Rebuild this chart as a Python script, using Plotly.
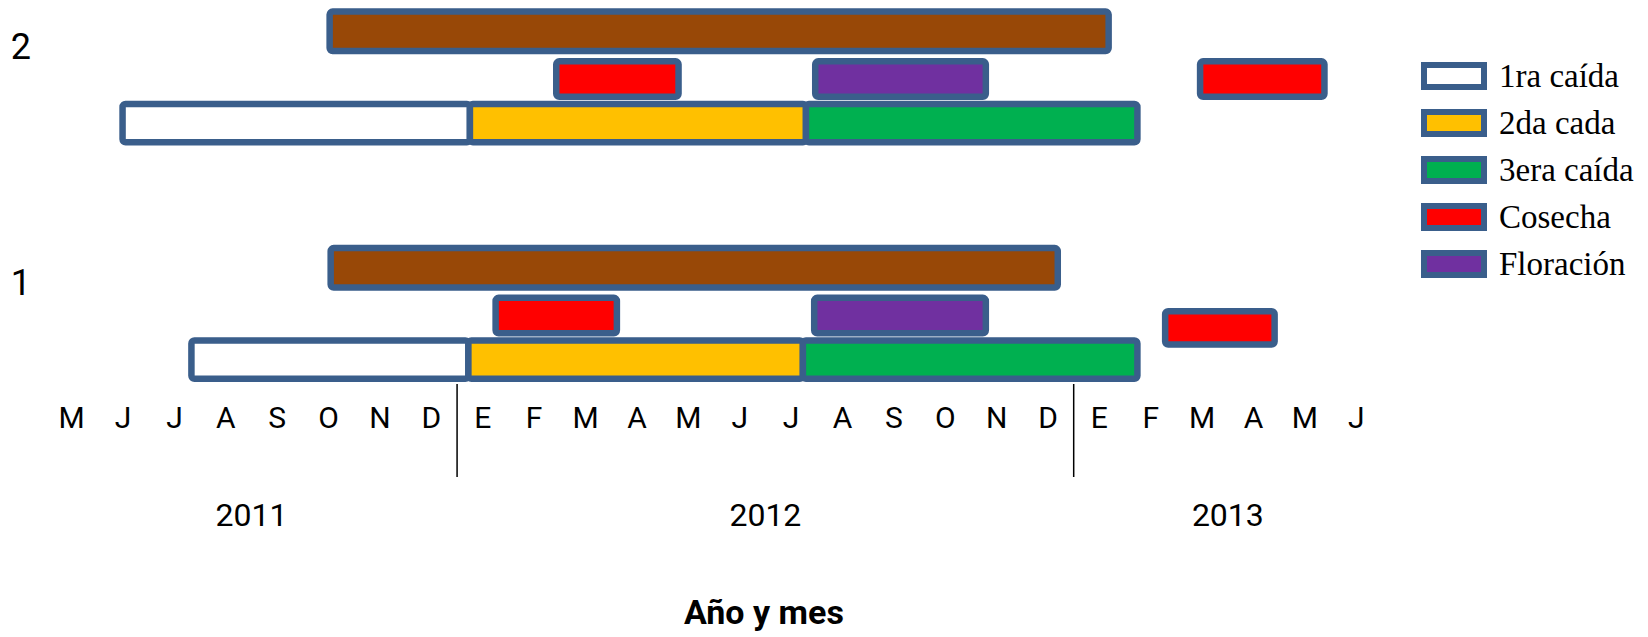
import plotly.graph_objects as go

# Meses contados desde enero 2011 (0 = 1 ene 2011, 12 = 1 ene 2012, 24 = 1 ene 2013)
ROWS = [2, 2, 2, 2, 2, 2, 2,
        1, 1, 1, 1, 1, 1, 1]
ACTIVITY = ["Ciclo", "Cosecha", "Floración", "Cosecha", "1ra caída", "2da cada", "3era caída",
            "Ciclo", "Cosecha", "Floración", "Cosecha", "1ra caída", "2da cada", "3era caída"]
START = [9.52, 13.93, 18.97, 26.46, 5.49, 12.25, 18.79,
         9.54, 12.75, 18.95, 25.78, 6.83, 12.22, 18.73]
END = [24.68, 16.31, 22.29, 28.88, 12.25, 18.79, 25.24,
       23.69, 15.11, 22.29, 27.91, 12.22, 18.73, 25.24]

MONTH_LABELS = ["M", "J", "J", "A", "S", "O", "N", "D",
                "E", "F", "M", "A", "M", "J", "J", "A", "S", "O", "N", "D",
                "E", "F", "M", "A", "M", "J"]
FIRST_MONTH = 4  # mayo 2011
YEARS = ["2011", "2012", "2013"]
LEGEND_ITEMS = ["1ra caída", "2da cada", "3era caída", "Cosecha", "Floración"]

# styling
COLORS = {
    "Ciclo": "#984807",
    "1ra caída": "#ffffff",
    "2da cada": "#ffc000",
    "3era caída": "#00b050",
    "Cosecha": "#ff0000",
    "Floración": "#7030a0",
}
BORDER = "#3a5e8b"
# lane per bar: (offset from row value, bar thickness) in y units
LANE = {"top": (0.062, 0.167), "mid": (-0.140, 0.150), "low": (-0.326, 0.162), "mid_low": (-0.192, 0.141)}
BAR_LANE = ["top", "mid", "mid", "mid", "low", "low", "low",
            "top", "mid", "mid", "mid_low", "low", "low", "low"]
DRAW_ORDER = ["1ra caída", "2da cada", "3era caída", "Cosecha", "Floración", "Ciclo"]

SANS = "Roboto, Liberation Sans, sans-serif"
SERIF = "Liberation Serif, Times New Roman, serif"

# the page puts the figure 8px in from the corner, so size it to end at 1648x637
OFF = 8
W, H = 1648 - OFF, 637 - OFF
PLOT_TOP, PLOT_BOT = 8, 477      # page pixels
PLOT_L, PLOT_R = 46, 1382
ML, MR = PLOT_L - OFF, W - (PLOT_R - OFF)
MT, MB = PLOT_TOP - OFF, H - (PLOT_BOT - OFF)
ROW_PX = 236.5                   # pixels per row unit
ROW2_PX, ROW1_PX = 46, 282.5     # where labels "2" and "1" sit


def py(px):
    # page pixel row -> paper y
    return (PLOT_BOT - px) / (PLOT_BOT - PLOT_TOP)


def pxx(px):
    return (px - PLOT_L) / (PLOT_R - PLOT_L)


fig = go.Figure()
for act in DRAW_ORDER:
    idx = [i for i, a in enumerate(ACTIVITY) if a == act]
    fig.add_trace(go.Bar(
        orientation="h",
        name=act,
        y=[ROWS[i] + LANE[BAR_LANE[i]][0] for i in idx],
        base=[START[i] for i in idx],
        x=[END[i] - START[i] for i in idx],
        width=[LANE[BAR_LANE[i]][1] for i in idx],
        marker=dict(color=COLORS[act], line=dict(color=BORDER, width=6.5), cornerradius=3),
        showlegend=False,
        hovertemplate=act + "<extra></extra>",
    ))
# empty trace so the month axis gets drawn
fig.add_trace(go.Scatter(x=[], y=[], xaxis="x2", yaxis="y", showlegend=False, hoverinfo="skip"))

x_range = [FIRST_MONTH, FIRST_MONTH + len(MONTH_LABELS)]
year_pos = []
for k in range(len(YEARS)):
    lo = max(x_range[0], 12 * k)
    hi = min(x_range[1], 12 * (k + 1))
    year_pos.append((lo + hi) / 2)

# year separators
for k in range(1, len(YEARS)):
    fig.add_shape(type="line", xref="x", yref="paper", x0=12 * k, x1=12 * k,
                  y0=0, y1=py(384), line=dict(color="black", width=1.5))

# manual legend (wide swatches like the original)
for j, name in enumerate(LEGEND_ITEMS):
    cy = 76 + 47 * j
    fig.add_shape(type="rect", xref="paper", yref="paper",
                  x0=pxx(1424), x1=pxx(1484), y0=py(cy + 11), y1=py(cy - 11),
                  fillcolor=COLORS[name], line=dict(color=BORDER, width=6))
    fig.add_annotation(xref="paper", yref="paper", x=pxx(1497), y=py(cy),
                       text=name, showarrow=False, xanchor="left", yanchor="middle",
                       font=dict(family=SERIF, size=33, color="black"))

fig.add_annotation(xref="paper", yref="paper", x=pxx(764), y=py(612),
                   text="<b>Año y mes</b>", showarrow=False,
                   xanchor="center", yanchor="middle",
                   font=dict(family=SANS, size=34, color="black"))

fig.update_layout(
    template="none",
    width=W, height=H,
    margin=dict(l=ML, r=MR, t=MT, b=MB),
    paper_bgcolor="white", plot_bgcolor="white",
    barmode="overlay",
    showlegend=False,
    xaxis=dict(
        range=x_range, showgrid=False, zeroline=False, showline=False, ticks="",
        tickvals=year_pos, ticktext=YEARS, ticklabelstandoff=16,
        tickfont=dict(family=SANS, size=32, color="black"),
        automargin=False,
    ),
    xaxis2=dict(
        overlaying="x", anchor="free", position=py(397), side="bottom",
        range=x_range, showgrid=False, zeroline=False, showline=False, ticks="",
        tickvals=[FIRST_MONTH + i + 0.5 for i in range(len(MONTH_LABELS))],
        ticktext=MONTH_LABELS,
        tickfont=dict(family=SANS, size=30, color="black"),
        automargin=False,
    ),
    yaxis=dict(
        range=[1 - (PLOT_BOT - ROW1_PX) / ROW_PX, 2 + (ROW2_PX - PLOT_TOP) / ROW_PX],
        showgrid=False, zeroline=False, showline=False, ticks="",
        tickvals=[1, 2], ticktext=["1", "2"], ticklabelstandoff=14,
        tickfont=dict(family=SANS, size=36, color="black"),
        automargin=False,
    ),
)

fig.write_html("out.html")
